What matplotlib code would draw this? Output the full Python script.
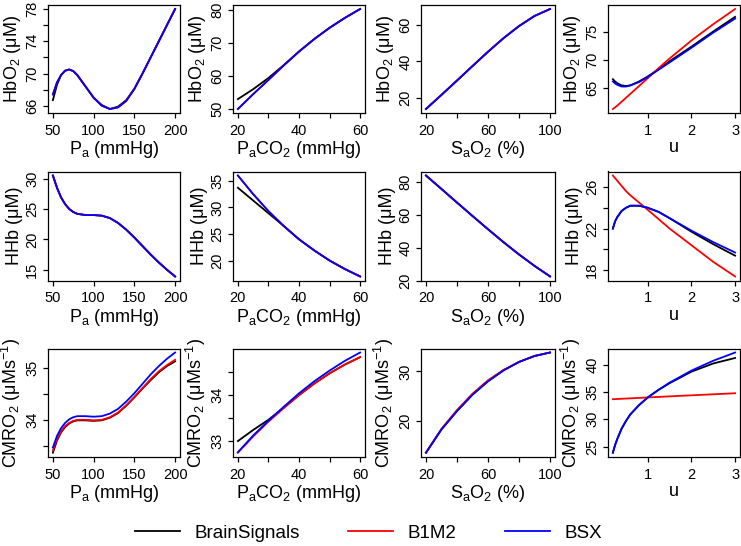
import matplotlib
matplotlib.use("Agg")
import matplotlib.pyplot as plt
from matplotlib.lines import Line2D

plt.rcParams['font.family'] = ['Liberation Sans', 'DejaVu Sans']

# x values, one grid per column
pa = [50, 55, 60, 65, 70, 75, 80, 90, 100, 110, 120, 130, 140, 150, 160, 170, 180, 190, 200]
paco2 = [20, 25, 30, 35, 40, 45, 50, 55, 60]
sao2 = [20, 30, 40, 50, 60, 70, 80, 90, 100]
u = [0.2, 0.25, 0.3, 0.4, 0.5, 0.6, 0.8, 1.0, 1.25, 1.5, 2.0, 2.5, 3.0]

# HbO2 (uM)
hbo2_pa_bs = [66.7, 68.6, 69.8, 70.35, 70.5, 70.3, 69.8, 68.4, 67.0, 66.1, 65.6, 65.9, 66.7, 68.1, 70.0, 72.0, 74.0, 76.0, 78.0]
hbo2_pa_b1m2 = [67.4, 68.9, 69.8, 70.35, 70.5, 70.3, 69.8, 68.4, 67.0, 66.0, 65.6, 65.8, 66.6, 68.1, 70.0, 72.0, 74.0, 76.0, 78.0]
hbo2_pa_bsx = [67.4, 68.9, 69.8, 70.35, 70.5, 70.3, 69.8, 68.4, 67.0, 66.0, 65.6, 65.8, 66.6, 68.1, 70.0, 72.0, 74.0, 76.0, 78.0]

hbo2_paco2_bs = [53.0, 56.0, 59.4, 63.3, 67.4, 71.2, 74.6, 77.6, 80.3]
hbo2_paco2_b1m2 = [50.0, 54.5, 58.8, 63.2, 67.4, 71.2, 74.6, 77.6, 80.3]
hbo2_paco2_bsx = [50.0, 54.5, 58.8, 63.2, 67.4, 71.2, 74.6, 77.6, 80.3]

hbo2_sao2_bs = [14.1, 21.8, 29.6, 37.5, 45.3, 52.7, 59.3, 64.8, 68.6]
hbo2_sao2_b1m2 = [14.1, 21.8, 29.6, 37.5, 45.3, 52.7, 59.3, 64.8, 68.6]
hbo2_sao2_bsx = [14.1, 21.8, 29.6, 37.5, 45.3, 52.7, 59.3, 64.8, 68.6]

hbo2_u_bs = [66.6, 66.2, 65.9, 65.5, 65.4, 65.5, 66.2, 67.1, 68.4, 69.8, 72.4, 75.1, 77.7]
hbo2_u_b1m2 = [61.3, 61.6, 61.9, 62.6, 63.3, 64.0, 65.4, 66.8, 68.6, 70.3, 73.5, 76.4, 79.1]
hbo2_u_bsx = [66.2, 65.85, 65.6, 65.3, 65.3, 65.5, 66.1, 67.0, 68.3, 69.6, 72.2, 74.9, 77.4]

# HHb (uM)
hhb_pa_bs = [30.5, 28.5, 26.9, 25.8, 25.0, 24.5, 24.2, 24.0, 24.0, 23.9, 23.5, 22.7, 21.6, 20.3, 18.9, 17.5, 16.2, 15.0, 13.9]
hhb_pa_b1m2 = [30.5, 28.5, 26.9, 25.8, 25.0, 24.5, 24.2, 24.0, 24.0, 23.9, 23.5, 22.7, 21.6, 20.3, 18.9, 17.5, 16.2, 15.0, 13.9]
hhb_pa_bsx = [30.5, 28.5, 26.9, 25.8, 25.0, 24.5, 24.2, 24.0, 24.0, 23.9, 23.5, 22.7, 21.6, 20.3, 18.9, 17.5, 16.2, 15.0, 13.9]

hhb_paco2_bs = [33.7, 31.3, 28.9, 26.5, 24.0, 21.9, 20.0, 18.4, 17.0]
hhb_paco2_b1m2 = [36.0, 32.5, 29.3, 26.5, 24.0, 21.9, 20.0, 18.4, 17.0]
hhb_paco2_bsx = [36.0, 32.5, 29.3, 26.5, 24.0, 21.9, 20.0, 18.4, 17.0]

hhb_sao2_bs = [84.1, 75.9, 67.6, 59.4, 51.3, 43.4, 35.9, 28.9, 22.5]
hhb_sao2_b1m2 = [84.1, 75.9, 67.6, 59.4, 51.3, 43.4, 35.9, 28.9, 22.5]
hhb_sao2_bsx = [84.1, 75.9, 67.6, 59.4, 51.3, 43.4, 35.9, 28.9, 22.5]

hhb_u_bs = [22.0, 22.7, 23.1, 23.7, 24.0, 24.2, 24.2, 24.0, 23.6, 23.0, 21.7, 20.5, 19.4]
hhb_u_b1m2 = [27.1, 26.85, 26.6, 26.1, 25.6, 25.2, 24.5, 23.8, 22.9, 22.0, 20.4, 18.8, 17.4]
hhb_u_bsx = [22.0, 22.7, 23.1, 23.7, 24.0, 24.2, 24.2, 24.0, 23.6, 23.0, 21.8, 20.7, 19.7]

# CMRO2 (uM/s)
cmro2_pa_bs = [33.38, 33.61, 33.77, 33.87, 33.94, 33.98, 34.00, 34.00, 33.99, 34.00, 34.05, 34.14, 34.28, 34.44, 34.61, 34.77, 34.92, 35.04, 35.13]
cmro2_pa_b1m2 = [33.42, 33.64, 33.79, 33.89, 33.95, 33.99, 34.01, 34.01, 34.00, 34.01, 34.06, 34.15, 34.29, 34.45, 34.62, 34.79, 34.94, 35.06, 35.16]
cmro2_pa_bsx = [33.48, 33.70, 33.85, 33.95, 34.02, 34.06, 34.08, 34.08, 34.07, 34.08, 34.13, 34.22, 34.36, 34.52, 34.70, 34.88, 35.04, 35.18, 35.30]

cmro2_paco2_bs = [33.00, 33.24, 33.46, 33.72, 33.99, 34.24, 34.46, 34.65, 34.81]
cmro2_paco2_b1m2 = [32.75, 33.10, 33.42, 33.71, 33.99, 34.24, 34.46, 34.65, 34.81]
cmro2_paco2_bsx = [32.76, 33.12, 33.44, 33.74, 34.03, 34.29, 34.52, 34.73, 34.91]

cmro2_sao2_bs = [13.6, 18.3, 22.0, 25.3, 28.0, 30.2, 31.9, 33.1, 33.8]
cmro2_sao2_b1m2 = [13.6, 18.4, 22.2, 25.5, 28.2, 30.3, 31.9, 33.1, 33.8]
cmro2_sao2_bsx = [13.6, 18.3, 22.0, 25.3, 28.0, 30.2, 31.9, 33.1, 33.8]

cmro2_u_bs = [23.9, 25.3, 26.4, 28.3, 29.7, 30.9, 32.6, 34.0, 35.4, 36.6, 38.7, 40.2, 41.2]
cmro2_u_b1m2 = [33.67, 33.69, 33.71, 33.75, 33.79, 33.83, 33.91, 33.99, 34.09, 34.19, 34.38, 34.57, 34.76]
cmro2_u_bsx = [23.9, 25.3, 26.4, 28.3, 29.7, 30.9, 32.6, 34.0, 35.4, 36.7, 38.9, 40.7, 42.2]

models = ['BrainSignals', 'B1M2', 'BSX']
colors = ['black', 'red', 'blue']

xlabels = ['P$_\\mathregular{a}$ (mmHg)', 'P$_\\mathregular{a}$CO$_\\mathregular{2}$ (mmHg)',
           'S$_\\mathregular{a}$O$_\\mathregular{2}$ (%)', 'u']
ylabels = ['HbO$_\\mathregular{2}$ (μM)', 'HHb (μM)', 'CMRO$_\\mathregular{2}$ (μMs$^{\\mathregular{-1}}$)']
xgrids = [pa, paco2, sao2, u]
xticks = [([50, 100, 150, 200], [50, 100, 150, 200]),
          ([20, 30, 40, 50, 60], [20, 40, 60]),
          ([20, 40, 60, 80, 100], [20, 60, 100]),
          ([1, 2, 3], [1, 2, 3])]

series = [
    [(hbo2_pa_bs, hbo2_pa_b1m2, hbo2_pa_bsx),
     (hbo2_paco2_bs, hbo2_paco2_b1m2, hbo2_paco2_bsx),
     (hbo2_sao2_bs, hbo2_sao2_b1m2, hbo2_sao2_bsx),
     (hbo2_u_bs, hbo2_u_b1m2, hbo2_u_bsx)],
    [(hhb_pa_bs, hhb_pa_b1m2, hhb_pa_bsx),
     (hhb_paco2_bs, hhb_paco2_b1m2, hhb_paco2_bsx),
     (hhb_sao2_bs, hhb_sao2_b1m2, hhb_sao2_bsx),
     (hhb_u_bs, hhb_u_b1m2, hhb_u_bsx)],
    [(cmro2_pa_bs, cmro2_pa_b1m2, cmro2_pa_bsx),
     (cmro2_paco2_bs, cmro2_paco2_b1m2, cmro2_paco2_bsx),
     (cmro2_sao2_bs, cmro2_sao2_b1m2, cmro2_sao2_bsx),
     (cmro2_u_bs, cmro2_u_b1m2, cmro2_u_bsx)],
]

yticks = [
    [([66, 68, 70, 72, 74, 76, 78], [66, 70, 74, 78]),
     ([50, 60, 70, 80], [50, 60, 70, 80]),
     ([20, 40, 60], [20, 40, 60]),
     ([65, 70, 75], [65, 70, 75])],
    [([15, 20, 25, 30], [15, 20, 25, 30]),
     ([20, 25, 30, 35], [20, 25, 30, 35]),
     ([20, 40, 60, 80], [20, 40, 60, 80]),
     ([18, 20, 22, 24, 26], [18, 22, 26])],
    [([33.5, 34, 34.5, 35], [34, 35]),
     ([33, 33.5, 34, 34.5], [33, 34]),
     ([20, 30], [20, 30]),
     ([25, 30, 35, 40], [25, 30, 35, 40])],
]

W, H = 741, 546
cols = [(48, 180), (233, 365), (421, 555), (608, 740)]
rows = [(5, 113), (171.5, 280.5), (348.5, 456.7)]

fig = plt.figure(figsize=(W / 100, H / 100), dpi=100)

for r, (top, bot) in enumerate(rows):
    for c, (left, right) in enumerate(cols):
        ax = fig.add_axes([left / W, 1 - bot / H, (right - left) / W, (bot - top) / H])
        for ys, col in zip(series[r][c], colors):
            ax.plot(xgrids[c], ys, color=col, lw=1.3)
        ax.margins(x=0.04, y=0.04)
        xt, xl = xticks[c]
        ax.set_xticks(xt)
        ax.set_xticklabels(['%g' % t if t in xl else '' for t in xt])
        yt, yl = yticks[r][c]
        ax.set_yticks(yt)
        ax.set_yticklabels(['%g' % t if t in yl else '' for t in yt], rotation=90, va='center')
        ax.tick_params(direction='out', length=3.8, width=0.9, labelsize=10.5, pad=2.5)
        ax.tick_params(axis='x', pad=4)
        for s in ax.spines.values():
            s.set_linewidth(0.9)
        ax.set_xlabel(xlabels[c], fontsize=13, labelpad=1)
        ax.set_ylabel(ylabels[r], fontsize=13, labelpad=1.5)

handles = [Line2D([], [], color=col, lw=1.3) for col in colors]
fig.legend(handles, models, loc='center', bbox_to_anchor=(368.5 / W, 1 - 533 / H), ncol=3,
           frameon=False, fontsize=13.5, handlelength=2.4, handletextpad=0.75, columnspacing=2.6)

fig.savefig('out.png', dpi=100)
